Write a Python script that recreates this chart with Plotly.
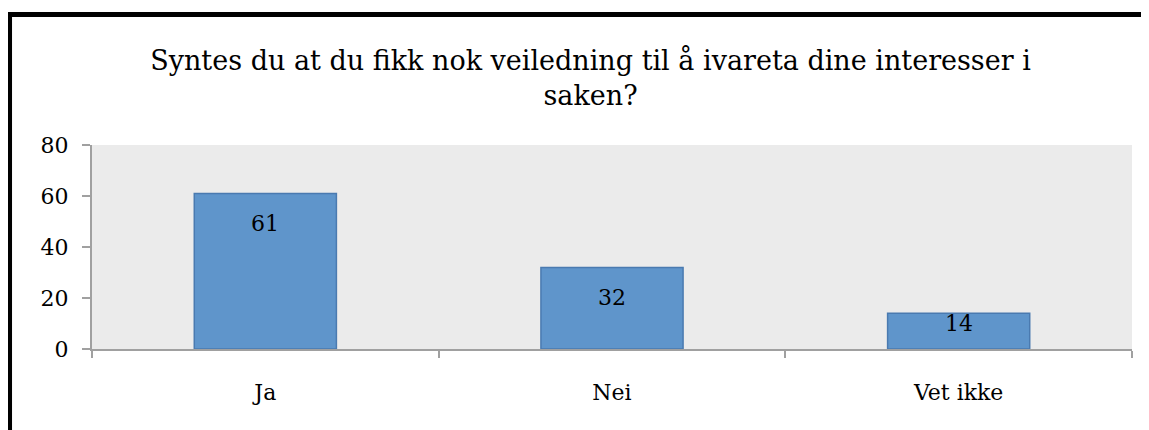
import plotly.graph_objects as go

categories = ["Ja", "Nei", "Vet ikke"]
values = [61, 32, 14]
title_text = "Syntes du at du fikk nok veiledning til å ivareta dine interesser i<br>saken?"

font_family = "DejaVu Serif"

fig = go.Figure(
    go.Bar(
        x=categories,
        y=values,
        width=0.41,
        marker=dict(color="#5f95cb", line=dict(color="#4a7ab0", width=1.5)),
        hoverinfo="x+y",
    )
)

# value labels just inside the top of each bar
for c, v in zip(categories, values):
    fig.add_annotation(
        x=c, y=v, text=str(v), showarrow=False,
        yshift=-30 if v > 20 else -10,
        font=dict(family=font_family, size=22, color="black"),
    )

# black frame round the chart (runs off right and bottom)
fig.add_shape(type="line", xref="paper", yref="paper",
              x0=-0.0793, x1=-0.0793, y0=1.64, y1=-0.6,
              line=dict(color="black", width=5))
fig.add_shape(type="line", xref="paper", yref="paper",
              x0=-0.0817, x1=1.1, y0=1.64, y1=1.64,
              line=dict(color="black", width=5))

fig.update_layout(
    width=1149, height=430,
    margin=dict(l=84, r=25, t=137, b=89),
    paper_bgcolor="white",
    plot_bgcolor="#ebebeb",
    showlegend=False,
    font=dict(family=font_family, size=22, color="black"),
    title=dict(
        text=title_text, xref="container", yref="container",
        x=0.507, xanchor="center", y=0.855, yanchor="top",
        font=dict(family=font_family, size=27, color="black"),
    ),
)
fig.update_xaxes(
    showline=True, linecolor="#a0a0a0", linewidth=2,
    ticks="outside", tickson="boundaries", ticklen=7, tickcolor="#a0a0a0", tickwidth=2,
    showgrid=False, ticklabelstandoff=23,
)
fig.update_yaxes(
    range=[0, 80], dtick=20,
    showline=True, linecolor="#a0a0a0", linewidth=2,
    ticks="outside", ticklen=8, tickcolor="#a0a0a0", tickwidth=2,
    showgrid=False, zeroline=False, ticklabelstandoff=9,
)

fig.write_html("out.html")
